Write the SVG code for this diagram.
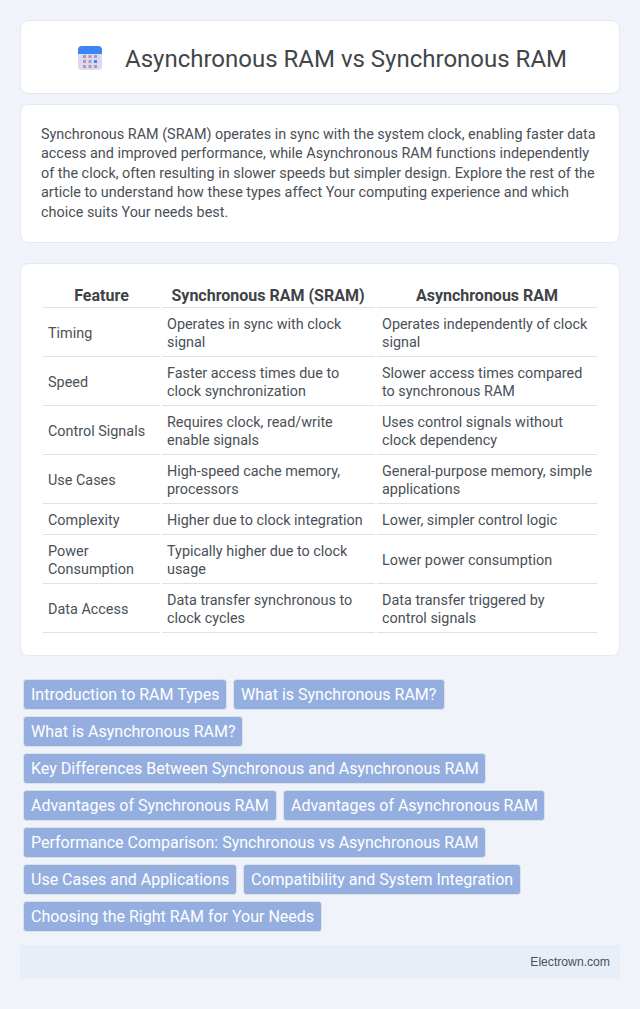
<svg xmlns="http://www.w3.org/2000/svg" width="640" height="1009" viewBox="0 0 640 1009">
<style>
text{font-family:Roboto,"Liberation Sans",sans-serif}
.card{fill:#fff;stroke:#e4e8f1;stroke-width:1}
.p{font-size:14.4px;fill:#495057}
.th{font-size:16px;font-weight:700;fill:#3f4347;text-anchor:middle}
.td{font-size:14.4px;fill:#495057}
.ln{fill:#dee2e6}
.tag{fill:#94aee0;stroke:#dee2e6;stroke-width:1}
.tt{font-size:16px;fill:#fff}
</style>
<rect width="640" height="1009" fill="#f0f3f9"/>
<g id="header">
<rect class="card" x="20.500" y="20.500" width="599" height="73" rx="8"/>
<rect x="78" y="46" width="24" height="24" rx="4" fill="#e0d8ee"/>
<path d="M78 54v-4a4 4 0 0 1 4-4h16a4 4 0 0 1 4 4v4z" fill="#3a86f5"/>
<g fill="#a79cbc"><rect x="83" y="55" width="3" height="3"/><rect x="88.500" y="55" width="3" height="3"/><rect x="94" y="55" width="3" height="3"/><rect x="83" y="60" width="3" height="3"/><rect x="88.500" y="60" width="3" height="3"/><rect x="83" y="65" width="3" height="3"/><rect x="88.500" y="65" width="3" height="3"/><rect x="94" y="65" width="3" height="3"/></g>
<rect x="94" y="60" width="3" height="3" fill="#2f8cf5"/>
<text x="125" y="67" font-size="24" fill="#424649">Asynchronous RAM vs Synchronous RAM</text>
</g>
<g id="intro">
<rect class="card" x="20.500" y="104.500" width="599" height="138" rx="8"/>
<text class="p" x="41" y="139">Synchronous RAM (SRAM) operates in sync with the system clock, enabling faster data</text>
<text class="p" x="41" y="158">access and improved performance, while Asynchronous RAM functions independently</text>
<text class="p" x="41" y="178">of the clock, often resulting in slower speeds but simpler design. Explore the rest of the</text>
<text class="p" x="41" y="197">article to understand how these types affect Your computing experience and which</text>
<text class="p" x="41" y="217">choice suits Your needs best.</text>
</g>
<g id="table">
<rect class="card" x="20.500" y="263.500" width="599" height="392" rx="8"/>
<text class="th" x="101.500" y="301">Feature</text>
<text class="th" x="268" y="301">Synchronous RAM (SRAM)</text>
<text class="th" x="487" y="301">Asynchronous RAM</text>
<g class="ln">
<rect x="43" y="307" width="117" height="1"/><rect x="162" y="307" width="213" height="1"/><rect x="377" y="307" width="220" height="1"/>
<rect x="43" y="356" width="117" height="1"/><rect x="162" y="356" width="213" height="1"/><rect x="377" y="356" width="220" height="1"/>
<rect x="43" y="405" width="117" height="1"/><rect x="162" y="405" width="213" height="1"/><rect x="377" y="405" width="220" height="1"/>
<rect x="43" y="454" width="117" height="1"/><rect x="162" y="454" width="213" height="1"/><rect x="377" y="454" width="220" height="1"/>
<rect x="43" y="503" width="117" height="1"/><rect x="162" y="503" width="213" height="1"/><rect x="377" y="503" width="220" height="1"/>
<rect x="43" y="534" width="117" height="1"/><rect x="162" y="534" width="213" height="1"/><rect x="377" y="534" width="220" height="1"/>
<rect x="43" y="583" width="117" height="1"/><rect x="162" y="583" width="213" height="1"/><rect x="377" y="583" width="220" height="1"/>
<rect x="43" y="632" width="117" height="1"/><rect x="162" y="632" width="213" height="1"/><rect x="377" y="632" width="220" height="1"/>
</g>
<text class="td" x="48" y="338">Timing</text>
<text class="td" x="167" y="329">Operates in sync with clock</text><text class="td" x="167" y="347">signal</text>
<text class="td" x="382" y="329">Operates independently of clock</text><text class="td" x="382" y="347">signal</text>
<text class="td" x="48" y="387">Speed</text>
<text class="td" x="167" y="378">Faster access times due to</text><text class="td" x="167" y="396">clock synchronization</text>
<text class="td" x="382" y="378">Slower access times compared</text><text class="td" x="382" y="396">to synchronous RAM</text>
<text class="td" x="48" y="436">Control Signals</text>
<text class="td" x="167" y="427">Requires clock, read/write</text><text class="td" x="167" y="445">enable signals</text>
<text class="td" x="382" y="427">Uses control signals without</text><text class="td" x="382" y="445">clock dependency</text>
<text class="td" x="48" y="485">Use Cases</text>
<text class="td" x="167" y="476">High-speed cache memory,</text><text class="td" x="167" y="494">processors</text>
<text class="td" x="382" y="476">General-purpose memory, simple</text><text class="td" x="382" y="494">applications</text>
<text class="td" x="48" y="525">Complexity</text>
<text class="td" x="167" y="525">Higher due to clock integration</text>
<text class="td" x="382" y="525">Lower, simpler control logic</text>
<text class="td" x="48" y="556">Power</text><text class="td" x="48" y="574">Consumption</text>
<text class="td" x="167" y="556">Typically higher due to clock</text><text class="td" x="167" y="574">usage</text>
<text class="td" x="382" y="565">Lower power consumption</text>
<text class="td" x="48" y="614">Data Access</text>
<text class="td" x="167" y="605">Data transfer synchronous to</text><text class="td" x="167" y="623">clock cycles</text>
<text class="td" x="382" y="605">Data transfer triggered by</text><text class="td" x="382" y="623">control signals</text>
</g>
<g id="toc">
<rect class="tag" x="23.500" y="679.500" width="203" height="30" rx="3"/><text class="tt" x="31" y="700">Introduction to RAM Types</text>
<rect class="tag" x="233.500" y="679.500" width="211" height="30" rx="3"/><text class="tt" x="241" y="700">What is Synchronous RAM?</text>
<rect class="tag" x="23.500" y="716.500" width="219" height="30" rx="3"/><text class="tt" x="31" y="737">What is Asynchronous RAM?</text>
<rect class="tag" x="23.500" y="753.500" width="462" height="30" rx="3"/><text class="tt" x="31" y="774">Key Differences Between Synchronous and Asynchronous RAM</text>
<rect class="tag" x="23.500" y="790.500" width="253" height="30" rx="3"/><text class="tt" x="31" y="811">Advantages of Synchronous RAM</text>
<rect class="tag" x="283.500" y="790.500" width="261" height="30" rx="3"/><text class="tt" x="291" y="811">Advantages of Asynchronous RAM</text>
<rect class="tag" x="23.500" y="827.500" width="462" height="30" rx="3"/><text class="tt" x="31" y="848">Performance Comparison: Synchronous vs Asynchronous RAM</text>
<rect class="tag" x="23.500" y="864.500" width="213" height="30" rx="3"/><text class="tt" x="31" y="885">Use Cases and Applications</text>
<rect class="tag" x="243.500" y="864.500" width="277" height="30" rx="3"/><text class="tt" x="251" y="885">Compatibility and System Integration</text>
<rect class="tag" x="23.500" y="901.500" width="298" height="30" rx="3"/><text class="tt" x="31" y="922">Choosing the Right RAM for Your Needs</text>
</g>
<g id="footer">
<rect x="20" y="945" width="600" height="34" fill="#e8eef8"/>
<text x="610" y="966" font-size="12.160" fill="#495057" text-anchor="end" style="font-family:'Liberation Sans',Arial,sans-serif">Electrown.com</text>
</g>
</svg>
